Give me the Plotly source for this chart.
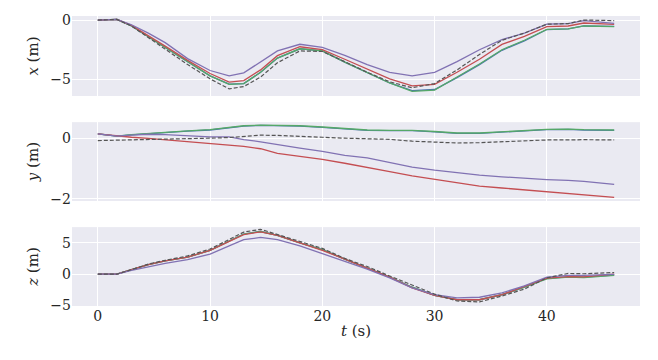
import plotly.graph_objects as go
from plotly.subplots import make_subplots

t = [0, 1.7, 3, 4.5, 6, 8, 10, 11.7, 13, 14.5, 16, 18, 20, 22, 24, 26, 28, 30, 32, 34, 36, 38, 40, 41.9, 43.3, 46]

# x (m)
x_gt = [0, 0.05, -0.5, -1.45, -2.45, -3.75, -4.95, -5.8, -5.6, -4.8, -3.6, -2.6, -2.65, -3.5, -4.4, -5.2, -5.7, -5.35, -4.2, -2.9, -1.7, -1.1, -0.35, -0.3, 0.0, -0.05]
x_blue = [0, 0.05, -0.5, -1.4, -2.35, -3.55, -4.7, -5.4, -5.35, -4.4, -3.2, -2.42, -2.6, -3.55, -4.45, -5.3, -5.95, -5.85, -4.85, -3.75, -2.55, -1.75, -0.8, -0.75, -0.5, -0.53]
x_green = [0, 0.05, -0.5, -1.4, -2.35, -3.55, -4.7, -5.42, -5.35, -4.4, -3.2, -2.42, -2.6, -3.55, -4.45, -5.3, -6.0, -5.9, -4.8, -3.7, -2.5, -1.7, -0.78, -0.75, -0.5, -0.55]
x_red = [0, 0.05, -0.45, -1.3, -2.2, -3.4, -4.5, -5.22, -5.1, -4.2, -3.0, -2.25, -2.5, -3.3, -4.15, -4.95, -5.55, -5.42, -4.4, -3.3, -2.05, -1.38, -0.55, -0.5, -0.25, -0.36]
x_purple = [0, 0.05, -0.4, -1.1, -1.9, -3.25, -4.25, -4.7, -4.45, -3.55, -2.6, -2.04, -2.3, -2.97, -3.75, -4.4, -4.7, -4.4, -3.5, -2.5, -1.65, -1.1, -0.35, -0.3, -0.05, -0.28]

# y (m)
y_gt = [-0.08, -0.07, -0.05, -0.03, -0.02, -0.01, 0.0, 0.02, 0.06, 0.1, 0.09, 0.05, 0.03, 0.0, -0.02, -0.04, -0.1, -0.14, -0.16, -0.15, -0.12, -0.09, -0.06, -0.06, -0.05, -0.06]
y_blue = [0.14, 0.07, 0.11, 0.15, 0.19, 0.23, 0.27, 0.33, 0.40, 0.42, 0.42, 0.40, 0.36, 0.31, 0.26, 0.25, 0.25, 0.21, 0.16, 0.16, 0.20, 0.22, 0.28, 0.29, 0.27, 0.26]
y_green = [0.14, 0.07, 0.12, 0.16, 0.2, 0.24, 0.28, 0.34, 0.41, 0.43, 0.43, 0.41, 0.37, 0.32, 0.27, 0.26, 0.26, 0.22, 0.17, 0.17, 0.21, 0.23, 0.29, 0.3, 0.28, 0.27]
y_red = [0.14, 0.07, 0.03, -0.01, -0.06, -0.12, -0.19, -0.23, -0.27, -0.35, -0.5, -0.6, -0.7, -0.83, -0.96, -1.11, -1.25, -1.37, -1.49, -1.59, -1.65, -1.71, -1.77, -1.83, -1.87, -1.96]
y_purple = [0.14, 0.07, 0.1, 0.13, 0.12, 0.08, 0.04, 0.04, -0.05, -0.12, -0.22, -0.33, -0.44, -0.57, -0.65, -0.8, -0.96, -1.06, -1.15, -1.22, -1.28, -1.33, -1.37, -1.4, -1.43, -1.53]

# z (m)
z_gt = [0, 0, 0.7, 1.6, 2.2, 2.9, 4.0, 5.6, 6.7, 7.15, 6.3, 5.2, 4.1, 2.5, 1.2, -0.3, -1.8, -3.2, -4.3, -4.45, -3.5, -2.4, -0.6, 0.1, 0.05, 0.25]
z_blue = [0, 0, 0.7, 1.5, 2.1, 2.7, 3.8, 5.3, 6.4, 6.8, 6.2, 5.0, 3.9, 2.4, 1.0, -0.5, -2.1, -3.4, -4.1, -4.1, -3.3, -2.1, -0.7, -0.45, -0.5, -0.15]
z_green = [0, 0, 0.7, 1.5, 2.1, 2.7, 3.8, 5.3, 6.4, 6.8, 6.2, 5.0, 3.9, 2.4, 1.0, -0.5, -2.1, -3.4, -4.1, -4.1, -3.3, -2.1, -0.75, -0.5, -0.55, -0.2]
z_red = [0, 0, 0.7, 1.5, 2.1, 2.7, 3.8, 5.2, 6.3, 6.75, 6.2, 5.0, 3.8, 2.4, 1.0, -0.5, -2.2, -3.4, -4.1, -4.1, -3.3, -2.0, -0.65, -0.4, -0.45, 0.0]
z_purple = [0, 0, 0.6, 1.2, 1.7, 2.3, 3.2, 4.5, 5.5, 5.85, 5.5, 4.5, 3.3, 2.0, 0.8, -0.6, -2.2, -3.3, -3.8, -3.7, -3.0, -1.9, -0.5, -0.2, -0.2, -0.05]

colors = {"blue": "#4C72B0", "green": "#55A868", "red": "#C44E52", "purple": "#8172B3", "gt": "#555555"}

panels = [
    (x_blue, x_green, x_red, x_purple, x_gt),
    (y_blue, y_green, y_red, y_purple, y_gt),
    (z_blue, z_green, z_red, z_purple, z_gt),
]

fig = make_subplots(rows=3, cols=1, shared_xaxes=True, vertical_spacing=0.09)

for i, (b, g, r, p, gt) in enumerate(panels, start=1):
    for vals, key in [(b, "blue"), (g, "green"), (r, "red"), (p, "purple")]:
        fig.add_trace(go.Scatter(x=t, y=vals, mode="lines",
                                 line=dict(color=colors[key], width=1.3),
                                 showlegend=False), row=i, col=1)
    fig.add_trace(go.Scatter(x=t, y=gt, mode="lines",
                             line=dict(color=colors["gt"], width=1.2, dash="4px,2px"),
                             showlegend=False), row=i, col=1)

font = dict(family="DejaVu Serif", size=14, color="#262626")
tfont = dict(family="DejaVu Serif", size=15, color="#262626")

xaxis_common = dict(range=[-2.3, 48.3], tickvals=[0, 10, 20, 30, 40],
                    showgrid=True, gridcolor="white", gridwidth=1,
                    zeroline=False, showline=False, ticks="", tickfont=font, automargin=False)
for i in range(1, 4):
    fig.update_xaxes(row=i, col=1, **xaxis_common)
fig.update_xaxes(row=3, col=1, showticklabels=True,
                 title=dict(text="<i>t</i> (s)", font=tfont, standoff=2))

yaxis_common = dict(showgrid=True, gridcolor="white", gridwidth=1, zeroline=False,
                    showline=False, ticks="", tickfont=font, automargin=False)
fig.update_yaxes(row=1, col=1, range=[-6.4, 0.34], tickvals=[0, -5], ticktext=["0", "−5"],
                 title=dict(text="<i>x</i> (m)", font=tfont, standoff=8),
                 domain=[0.724, 1.0], **yaxis_common)
fig.update_yaxes(row=2, col=1, range=[-2.08, 0.53], tickvals=[0, -2], ticktext=["0", "−2"],
                 title=dict(text="<i>y</i> (m)", font=tfont, standoff=8),
                 domain=[0.362, 0.634], **yaxis_common)
fig.update_yaxes(row=3, col=1, range=[-5.1, 7.5], tickvals=[-5, 0, 5], ticktext=["−5", "0", "5"],
                 title=dict(text="<i>z</i> (m)", font=tfont, standoff=8),
                 domain=[0.0, 0.272], **yaxis_common)

# page body adds an 8px margin; compensate so the plot areas land where the reference has them
fig.update_layout(
    width=650, height=352,
    margin=dict(l=64, r=18, t=8, b=54, autoexpand=False),
    paper_bgcolor="white", plot_bgcolor="#EAEAF2",
    font=font,
)

fig.write_html("out.html")
